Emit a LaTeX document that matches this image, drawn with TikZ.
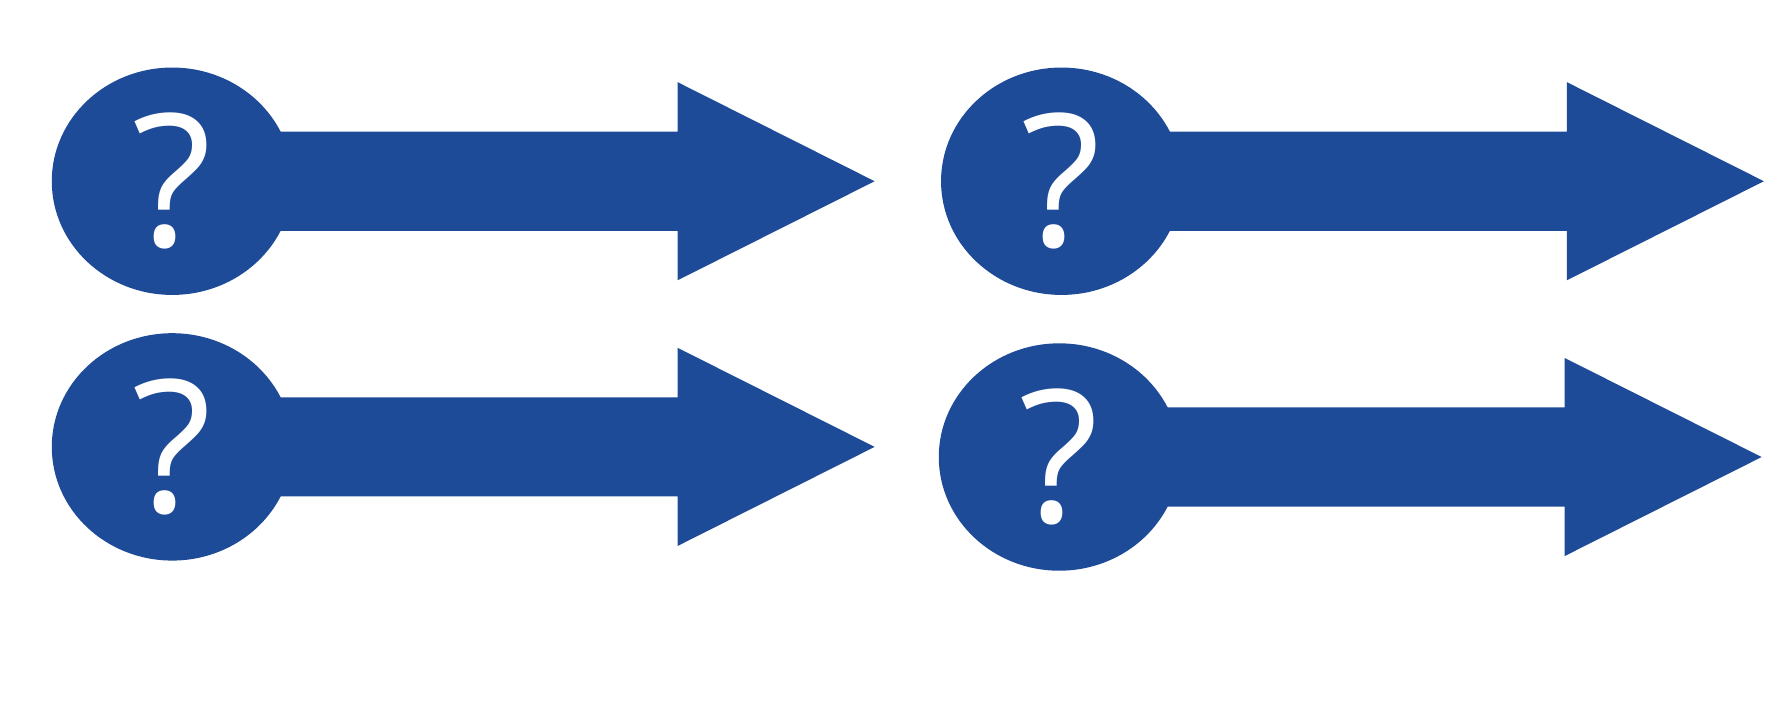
\documentclass[tikz,border=0pt]{standalone}
\usepackage{fontspec}
\setmainfont{Open Sans}
\usetikzlibrary{shapes.geometric}
\definecolor{ablue}{HTML}{1E4B98}
\newcommand{\qarrow}[5]{%
  \fill[ablue] (#2,#3-44) -- (#4,#3-44) -- (#4,#3-88) -- (#5,#3) -- (#4,#3+88) -- (#4,#3+44) -- (#2,#3+44) -- cycle;%
  \node[blob] (#1) at (#2,#3) {?};%
}
\begin{document}
\begin{tikzpicture}[x=0.5pt,y=-0.5pt,
  blob/.style={ellipse,fill=ablue,minimum width=107pt,minimum height=101pt,inner sep=0pt,
    text=white,font=\fontsize{82}{82}\selectfont}]
\qarrow{a}{153}{161}{602}{777}
\qarrow{b}{943}{161}{1392}{1567}
\qarrow{c}{153}{397}{602}{777}
\qarrow{d}{941}{406}{1390}{1565}
\pgfresetboundingbox
\useasboundingbox (0,0) rectangle (1568,622);
\end{tikzpicture}
\end{document}
